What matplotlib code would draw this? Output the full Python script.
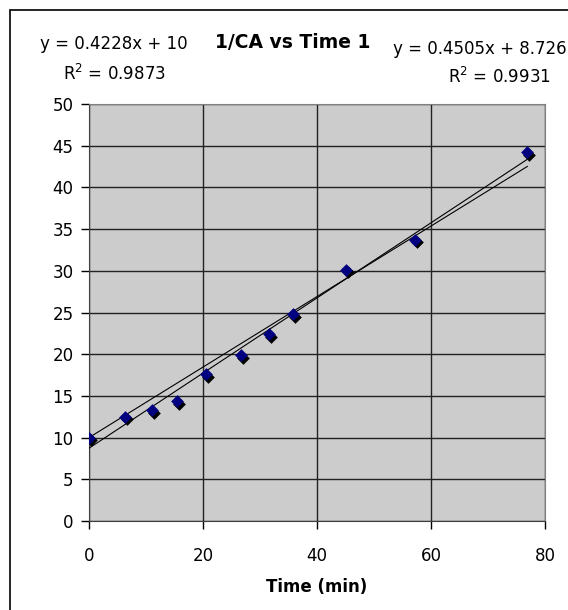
import numpy as np
import matplotlib
matplotlib.use("Agg")
import matplotlib.pyplot as plt
from matplotlib.patches import Rectangle
from matplotlib.transforms import offset_copy

# data
time_min = [0, 6.4, 11.05, 15.5, 20.5, 26.6, 31.5, 35.85, 45.1, 57.25, 76.9]
inv_ca = [10.0, 12.5, 13.3, 14.35, 17.6, 19.87, 22.4, 24.8, 30.1, 33.7, 44.2]

# trendlines as labelled on the chart
fit1 = (0.4228, 10.0, 0.9873)    # intercept fixed at 10
fit2 = (0.4505, 8.726, 0.9931)

x_ticks = [0, 20, 40, 60, 80]
y_ticks = [0, 5, 10, 15, 20, 25, 30, 35, 40, 45, 50]

W, H = 568, 610
fig = plt.figure(figsize=(W / 100, H / 100), dpi=100)
fig.patch.set_facecolor("white")
ax = fig.add_axes([89 / W, 1 - 521 / H, 456 / W, 417 / H])
ax.set_facecolor("#cccccc")

# outer chart border (runs off the right and bottom of the image)
top = 1 - 9.5 / H
fig.add_artist(Rectangle((10 / W, -0.2), 1.2, top + 0.2,
                         transform=fig.transFigure, fill=False,
                         ec="black", lw=1.2, clip_on=False))

xs = np.array([0, max(time_min)])
for slope, icpt, _ in (fit1, fit2):
    ax.plot(xs, slope * xs + icpt, color="black", lw=0.8, zorder=3)

# marker shadow, then the marker itself
shadow = offset_copy(ax.transData, fig=fig, x=2, y=-2.5, units="dots")
ax.scatter(time_min, inv_ca, marker="D", s=42, color="black",
           transform=shadow, zorder=4, linewidths=0)
ax.scatter(time_min, inv_ca, marker="D", s=42, color="#000080",
           zorder=5, linewidths=0)

ax.set_xlim(0, 80)
ax.set_ylim(0, 50)
ax.set_xticks(x_ticks)
ax.set_yticks(y_ticks)
ax.tick_params(direction="out", length=6, width=1, color="black",
               labelsize=12, pad=5)
ax.tick_params(axis="x", pad=13)
ax.grid(True, color="#222222", lw=1)
ax.set_axisbelow(True)
for side in ("top", "right"):
    ax.spines[side].set_color("#808080")
ax.spines["left"].set_color("#404040")
ax.spines["bottom"].set_color("#404040")

ax.set_xlabel("Time (min)", fontsize=12, fontweight="bold", labelpad=9)

def ftext(px, py, s, **kw):
    fig.text(px / W, 1 - py / H, s, va="center", **kw)

ftext(293, 42, "1/CA vs Time 1", ha="center", fontsize=13.5, fontweight="bold")
ftext(114, 44, f"y = {fit1[0]}x + {fit1[1]:g}", ha="center", fontsize=12)
ftext(114, 74, f"R$^2$ = {fit1[2]}", ha="center", fontsize=12)
ftext(393, 49, f"y = {fit2[0]}x + {fit2[1]}", ha="left", fontsize=12)
ftext(499, 77, f"R$^2$ = {fit2[2]}", ha="center", fontsize=12)

fig.savefig("out.png", dpi=100)
